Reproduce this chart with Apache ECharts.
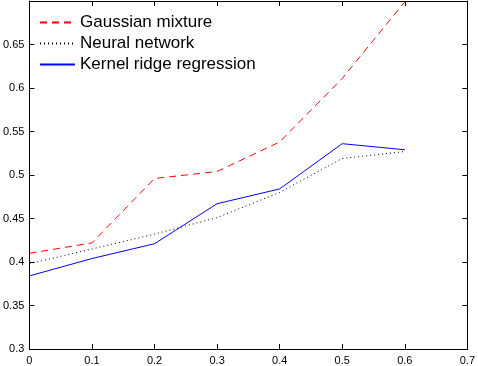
<!DOCTYPE html>
<html>
<head>
<meta charset="utf-8">
<script src="https://cdn.jsdelivr.net/npm/echarts@6/dist/echarts.min.js"></script>
<style>
  html, body { margin: 0; padding: 0; background: #fff; }
  #chart { width: 478px; height: 366px; }
</style>
</head>
<body>
<div id="chart"></div>
<script>
var xs = [0, 0.1, 0.2, 0.3, 0.4, 0.5, 0.6];
var gaussian = [0.410, 0.422, 0.496, 0.504, 0.538, 0.611, 0.699];
var neural = [0.398, 0.415, 0.432, 0.451, 0.480, 0.519, 0.527];
var kernel = [0.384, 0.404, 0.421, 0.467, 0.484, 0.536, 0.529];
var names = ['Gaussian mixture', 'Neural network', 'Kernel ridge regression'];

function pairs(ys) {
    return xs.map(function(x, i) { return [x, ys[i]]; });
}

var font = 'Liberation Sans, Arial, Helvetica, sans-serif';

function mkSeries(name, ys, color, type) {
    return {
        name: name,
        type: 'line',
        data: pairs(ys),
        symbol: 'none',
        showSymbol: false,
        silent: true,
        lineStyle: { color: color, width: 1, type: type },
        itemStyle: { color: color }
    };
}

// inward ticks, like the matlab box
function ticks() {
    return { show: true, inside: true, length: 5, lineStyle: { color: '#000', width: 1 } };
}

function axisLine() {
    return { show: true, onZero: false, lineStyle: { color: '#000', width: 1 } };
}

echarts.init(document.getElementById('chart')).setOption({
    animation: false,
    grid: { left: 27, right: 8, top: 1, bottom: 15 },
    legend: {
        orient: 'vertical',
        left: 34,
        top: 9,
        itemWidth: 35,
        itemHeight: 12,
        itemGap: 4,
        itemStyle: { opacity: 0 },
        textStyle: { fontFamily: font, fontSize: 17, color: '#000' },
        data: names
    },
    xAxis: [{
        type: 'value',
        min: 0,
        max: 0.7,
        interval: 0.1,
        axisLine: axisLine(),
        axisTick: ticks(),
        splitLine: { show: false },
        axisLabel: { color: '#000', fontFamily: font, fontSize: 11, margin: 6 }
    }, {
        type: 'value',
        position: 'top',
        min: 0,
        max: 0.7,
        interval: 0.1,
        axisLine: axisLine(),
        axisTick: ticks(),
        splitLine: { show: false },
        axisLabel: { show: false }
    }],
    yAxis: [{
        type: 'value',
        min: 0.3,
        max: 0.7,
        interval: 0.05,
        axisLine: axisLine(),
        axisTick: ticks(),
        splitLine: { show: false },
        axisLabel: {
            color: '#000', fontFamily: font, fontSize: 11, margin: 5,
            formatter: function(v) { return v >= 0.699 ? '' : String(+v.toFixed(2)); }
        }
    }, {
        type: 'value',
        position: 'right',
        min: 0.3,
        max: 0.7,
        interval: 0.05,
        axisLine: axisLine(),
        axisTick: ticks(),
        splitLine: { show: false },
        axisLabel: { show: false }
    }],
    series: [
        mkSeries(names[0], gaussian, '#ff0000', [7, 5]),
        mkSeries(names[1], neural, '#000000', [1, 3]),
        mkSeries(names[2], kernel, '#0000ff', 'solid')
    ]
});
</script>
</body>
</html>
